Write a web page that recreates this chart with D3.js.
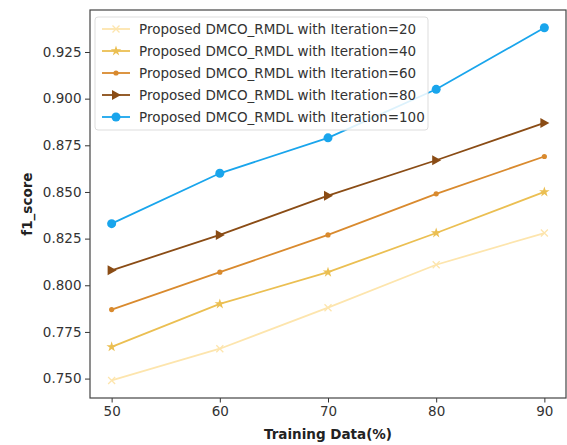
<!DOCTYPE html>
<html>
<head>
<meta charset="utf-8">
<script src="https://cdn.jsdelivr.net/npm/d3@7"></script>
<style>
  body { margin: 0; background: #fff; }
  text { font-family: "DejaVu Sans", sans-serif; }
</style>
</head>
<body>
<div id="chart"></div>
<script>
// data
var trainingData = [50, 60, 70, 80, 90];
var iter20 = [0.749, 0.766, 0.788, 0.811, 0.828];
var iter40 = [0.767, 0.790, 0.807, 0.828, 0.850];
var iter60 = [0.787, 0.807, 0.827, 0.849, 0.869];
var iter80 = [0.808, 0.827, 0.848, 0.867, 0.887];
var iter100 = [0.833, 0.860, 0.879, 0.905, 0.938];
var seriesNames = [
  "Proposed DMCO_RMDL with Iteration=20",
  "Proposed DMCO_RMDL with Iteration=40",
  "Proposed DMCO_RMDL with Iteration=60",
  "Proposed DMCO_RMDL with Iteration=80",
  "Proposed DMCO_RMDL with Iteration=100"
];
var yTicks = [0.750, 0.775, 0.800, 0.825, 0.850, 0.875, 0.900, 0.925];

var colors = ["#fde5ad", "#ebbf52", "#d98a2e", "#8a4c15", "#19a5ec"];
var markers = ["x", "star", "point", "triangle", "circle"];
var allSeries = [iter20, iter40, iter60, iter80, iter100];

var fontSize = "13.5px";
var margin = { top: 10, right: 1, bottom: 47, left: 90 };
var width = 567 - margin.left - margin.right;
var height = 445 - margin.top - margin.bottom;

var svg = d3.select("#chart")
    .append("svg")
    .attr("width", 567)
    .attr("height", 445)
    .append("g")
    .attr("transform", "translate(" + margin.left + "," + margin.top + ")");

var x = d3.scaleLinear().domain([48, 92]).range([0, width]);
var y = d3.scaleLinear().domain([0.7396, 0.9475]).range([height, 0]);

// axes
var xAxis = svg.append("g")
    .attr("transform", `translate(0,${height})`)
    .call(d3.axisBottom(x).tickValues(trainingData).tickSize(4.5).tickPadding(3.5).tickFormat(d3.format("d")));
var yAxis = svg.append("g")
    .call(d3.axisLeft(y).tickValues(yTicks).tickSize(5).tickPadding(3.5).tickFormat(d3.format(".3f")));
[xAxis, yAxis].forEach(function (g) {
  g.select(".domain").remove();
  g.selectAll("line").attr("stroke", "#333").attr("stroke-width", 1);
  g.selectAll("text").attr("font-size", fontSize).attr("fill", "#333")
      .style("font-family", "DejaVu Sans, sans-serif");
});

// frame
svg.append("rect")
    .attr("width", width).attr("height", height)
    .attr("fill", "none").attr("stroke", "#444").attr("stroke-width", 1.2);

// axis labels
svg.append("text")
    .attr("x", x(70)).attr("y", height + 41)
    .attr("text-anchor", "middle")
    .attr("font-size", fontSize).attr("font-weight", "bold").attr("fill", "#222")
    .text("Training Data(%)");
svg.append("text")
    .attr("transform", "rotate(-90)")
    .attr("x", -(y(0.8435))).attr("y", -58)
    .attr("text-anchor", "middle")
    .attr("font-size", fontSize).attr("font-weight", "bold").attr("fill", "#222")
    .text("f1_score");

function drawMarker(g, type, color, cx, cy) {
  if (type === "x") {
    g.append("path")
        .attr("d", `M${cx - 3.5},${cy - 3.5}L${cx + 3.5},${cy + 3.5}M${cx - 3.5},${cy + 3.5}L${cx + 3.5},${cy - 3.5}`)
        .attr("stroke", color).attr("stroke-width", 1.3).attr("fill", "none");
  } else if (type === "star") {
    g.append("path")
        .attr("d", d3.symbol().type(d3.symbolStar).size(34)())
        .attr("transform", `translate(${cx},${cy})`)
        .attr("fill", color);
  } else if (type === "point") {
    g.append("circle").attr("cx", cx).attr("cy", cy).attr("r", 2.6).attr("fill", color);
  } else if (type === "triangle") {
    g.append("path")
        .attr("d", `M${cx + 5},${cy}L${cx - 4},${cy - 5}L${cx - 4},${cy + 5}Z`)
        .attr("fill", color);
  } else {
    g.append("circle").attr("cx", cx).attr("cy", cy).attr("r", 4.5).attr("fill", color);
  }
}

var line = d3.line()
    .x(function (d, i) { return x(trainingData[i]); })
    .y(function (d) { return y(d); });

allSeries.forEach(function (vals, s) {
  svg.append("path")
      .attr("d", line(vals))
      .attr("fill", "none")
      .attr("stroke", colors[s])
      .attr("stroke-width", 1.8);
  var mg = svg.append("g");
  vals.forEach(function (v, i) {
    drawMarker(mg, markers[s], colors[s], x(trainingData[i]), y(v));
  });
});

// legend
var legend = svg.append("g").attr("transform", "translate(5,7)");
legend.append("rect")
    .attr("width", 333).attr("height", 113).attr("rx", 3)
    .attr("fill", "#fff").attr("fill-opacity", 0.85)
    .attr("stroke", "#ddd").attr("stroke-width", 1);
seriesNames.forEach(function (name, s) {
  var ly = 12 + s * 22;
  legend.append("line")
      .attr("x1", 7).attr("x2", 35).attr("y1", ly).attr("y2", ly)
      .attr("stroke", colors[s]).attr("stroke-width", 1.8);
  drawMarker(legend, markers[s], colors[s], 21, ly);
  legend.append("text")
      .attr("x", 44).attr("y", ly).attr("dy", "0.35em")
      .attr("font-size", fontSize).attr("fill", "#333")
      .text(name);
});
</script>
</body>
</html>
